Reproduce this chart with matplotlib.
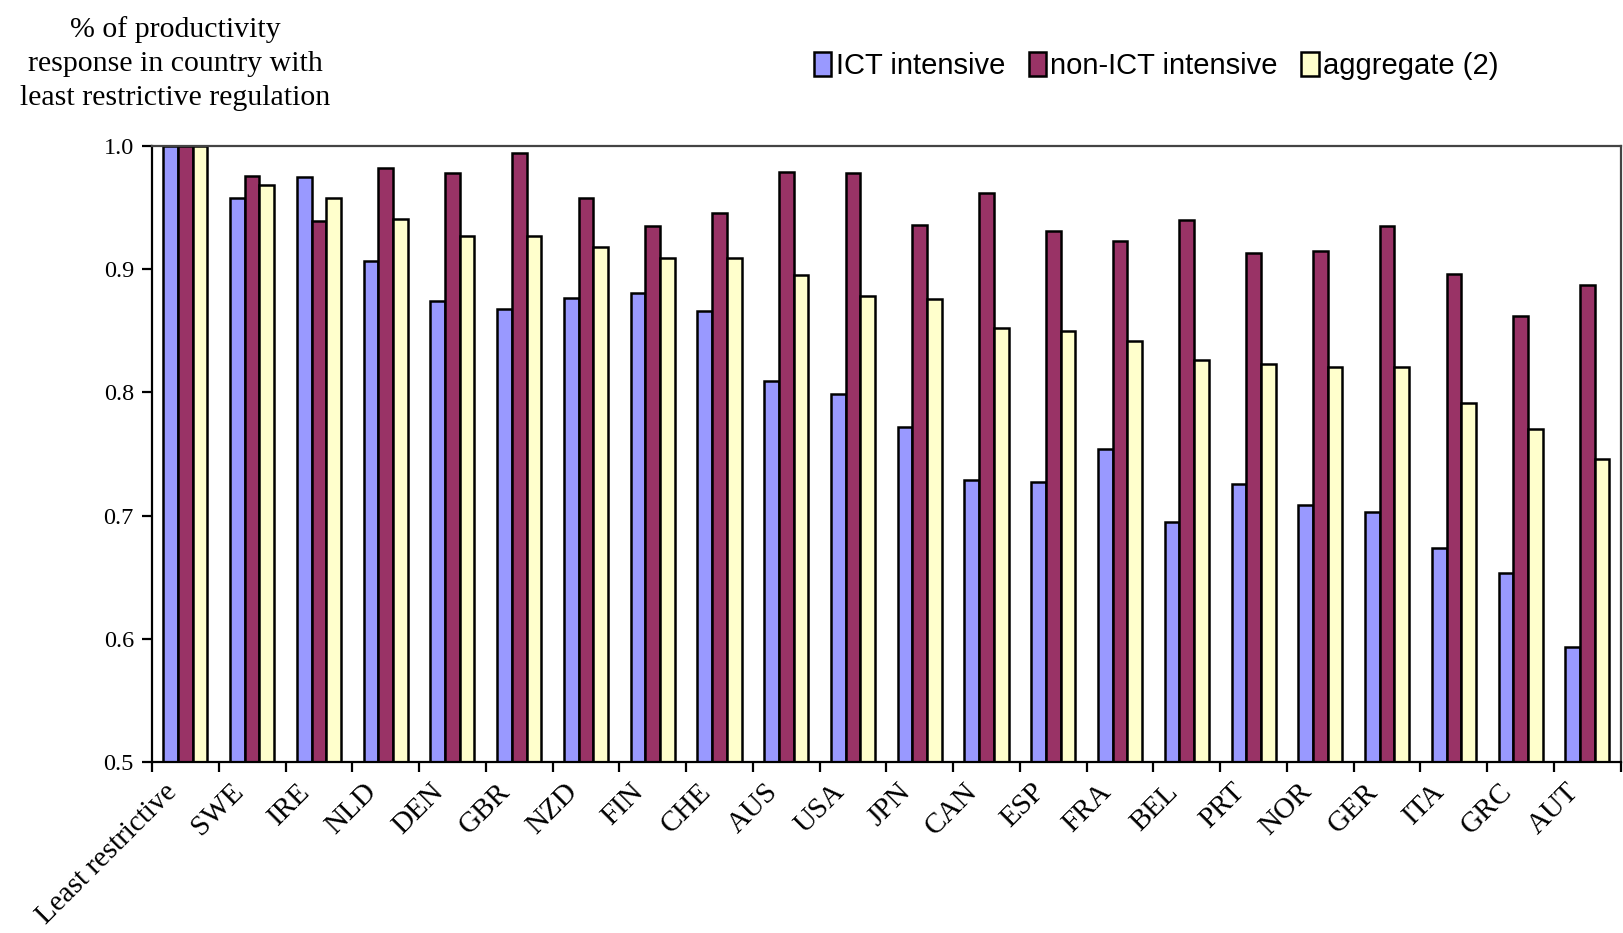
import numpy as np
import matplotlib
matplotlib.use("Agg")
import matplotlib.pyplot as plt

# Productivity response relative to the least restrictive country
countries = ["Least restrictive", "SWE", "IRE", "NLD", "DEN", "GBR", "NZD", "FIN",
             "CHE", "AUS", "USA", "JPN", "CAN", "ESP", "FRA", "BEL", "PRT", "NOR",
             "GER", "ITA", "GRC", "AUT"]
ict = [1.0, 0.958, 0.975, 0.907, 0.874, 0.868, 0.877, 0.881, 0.866, 0.809, 0.799,
       0.772, 0.729, 0.727, 0.754, 0.695, 0.726, 0.709, 0.703, 0.674, 0.653, 0.593]
non_ict = [1.0, 0.976, 0.939, 0.982, 0.978, 0.994, 0.958, 0.935, 0.946, 0.979, 0.978,
           0.936, 0.962, 0.931, 0.923, 0.940, 0.913, 0.915, 0.935, 0.896, 0.862, 0.887]
aggregate = [1.0, 0.968, 0.958, 0.941, 0.927, 0.927, 0.918, 0.909, 0.909, 0.895, 0.878,
             0.876, 0.852, 0.850, 0.842, 0.826, 0.823, 0.821, 0.821, 0.791, 0.770, 0.746]
series_names = ["ICT intensive", "non-ICT intensive", "aggregate (2)"]
colors = ["#9999FF", "#993366", "#FFFFCC"]

serif = ["Liberation Serif", "DejaVu Serif"]
sans = ["Liberation Sans", "DejaVu Sans"]

fig = plt.figure(figsize=(16.24, 9.33), dpi=100)
ax = fig.add_axes([0.0936, 0.1833, 0.9044, 0.6602])

x = np.arange(len(countries)) + 0.5
w = 0.22
for k, (vals, name, col) in enumerate(zip([ict, non_ict, aggregate], series_names, colors)):
    ax.bar(x + (k - 1) * w, np.array(vals) - 0.5, width=w, bottom=0.5, color=col,
           edgecolor="black", linewidth=1.8, label=name)

ax.set_xlim(0, len(countries))
ax.set_ylim(0.5, 1.0)
ax.set_yticks([0.5, 0.6, 0.7, 0.8, 0.9, 1.0])
ax.set_yticklabels(["0.5", "0.6", "0.7", "0.8", "0.9", "1.0"], family=serif, fontsize=17.5)

# ticks between categories; labels sit a bit left of the category centres
ax.set_xticks(np.arange(len(countries) + 1))
ax.set_xticklabels([])
ax.set_xticks(x - 0.33, minor=True)
ax.set_xticklabels(countries, minor=True, rotation=45, ha="right", va="top",
                   rotation_mode="anchor", family=serif, fontsize=21)
ax.tick_params(axis="x", which="minor", length=0, pad=12)
ax.tick_params(axis="x", which="major", length=7, width=1.6, direction="out")
ax.tick_params(axis="y", length=7, width=1.6, direction="out", pad=6)

for side in ["left", "bottom"]:
    ax.spines[side].set_linewidth(1.6)
for side in ["top", "right"]:
    ax.spines[side].set_linewidth(1.6)
    ax.spines[side].set_color("#444444")

fig.text(0.108, 0.932, "% of productivity\nresponse in country with\nleast restrictive regulation",
         ha="center", va="center", family=serif, fontsize=21.5, linespacing=1.4)

fig.legend(loc="center", bbox_to_anchor=(0.712, 0.929), ncol=3, frameon=False,
           prop={"family": sans, "size": 21}, handlelength=0.6, handleheight=0.9,
           handletextpad=0.15, columnspacing=0.8)

fig.savefig("out.png", dpi=100, facecolor="white")
